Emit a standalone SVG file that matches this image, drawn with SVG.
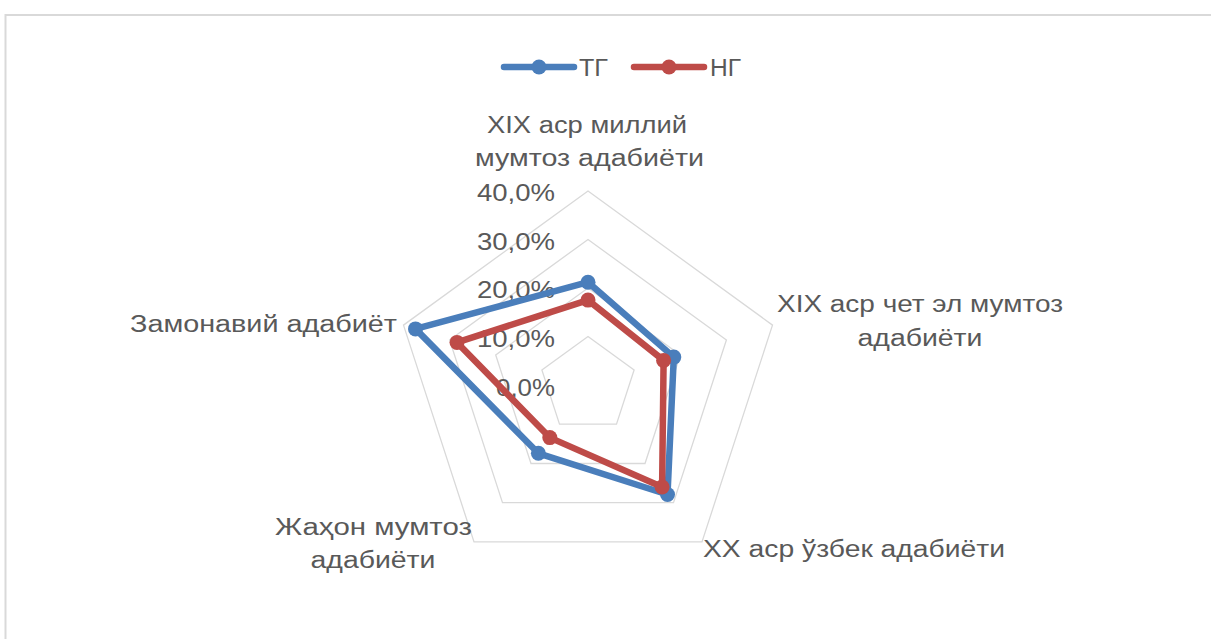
<svg xmlns="http://www.w3.org/2000/svg" width="1211" height="639" viewBox="0 0 1211 639">
  <style>
    .grid { fill: none; stroke: #D9D9D9; stroke-width: 1.3; }
    .lbl { font-family: "Liberation Sans", Arial, sans-serif; font-size: 23px; fill: #595959; }
    .tg { fill: none; stroke: #4A7EBB; stroke-width: 6.5; stroke-linejoin: round; stroke-linecap: round; }
    .ng { fill: none; stroke: #BE4B48; stroke-width: 6.5; stroke-linejoin: round; stroke-linecap: round; }
    .tgm { fill: #4A7EBB; }
    .ngm { fill: #BE4B48; }
  </style>
  <rect x="0" y="0" width="1211" height="639" fill="#FFFFFF"/>
  <rect id="frame" x="5.5" y="15" width="1300" height="700" fill="#FFFFFF" stroke="#D9D9D9" stroke-width="2"/>

  <g id="grid">
    <polygon class="grid" points="588,336.5 634.1,370 616.5,424.2 559.5,424.2 541.9,370"/>
    <polygon class="grid" points="588,288 680.3,355 645,463.5 531,463.5 495.7,355"/>
    <polygon class="grid" points="588,239.5 726.4,340 673.5,502.7 502.5,502.7 449.6,340"/>
    <polygon class="grid" points="588,191 772.5,325.1 702,541.9 474,541.9 403.5,325.1"/>
  </g>

  <g id="axis-labels" class="lbl" text-anchor="end">
    <text x="555" y="201" textLength="78" lengthAdjust="spacingAndGlyphs">40,0%</text>
    <text x="555" y="250" textLength="78" lengthAdjust="spacingAndGlyphs">30,0%</text>
    <text x="555" y="298" textLength="78" lengthAdjust="spacingAndGlyphs">20,0%</text>
    <text x="555" y="347" textLength="78" lengthAdjust="spacingAndGlyphs">10,0%</text>
    <text x="555" y="396" textLength="59" lengthAdjust="spacingAndGlyphs">0,0%</text>
  </g>

  <g id="connectors">
    <g id="series-tg">
      <polygon class="tg" points="588,282.2 673.8,357.1 667.5,494.5 538.4,453.3 415.5,328.9"/>
      <circle class="tgm" cx="588" cy="282.2" r="7.5"/>
      <circle class="tgm" cx="673.8" cy="357.1" r="7.5"/>
      <circle class="tgm" cx="667.5" cy="494.5" r="7.5"/>
      <circle class="tgm" cx="538.4" cy="453.3" r="7.5"/>
      <circle class="tgm" cx="415.5" cy="328.9" r="7.5"/>
    </g>
    <g id="series-ng">
      <polygon class="ng" points="588,300.1 663.6,360.4 662.1,487 549.8,437.6 457,342.4"/>
      <circle class="ngm" cx="588" cy="300.1" r="7.5"/>
      <circle class="ngm" cx="663.6" cy="360.4" r="7.5"/>
      <circle class="ngm" cx="662.1" cy="487" r="7.5"/>
      <circle class="ngm" cx="549.8" cy="437.6" r="7.5"/>
      <circle class="ngm" cx="457" cy="342.4" r="7.5"/>
    </g>
  </g>

  <g id="cat-top" class="lbl" text-anchor="middle">
    <text x="587" y="133" textLength="200" lengthAdjust="spacingAndGlyphs">XIX аср миллий</text>
    <text x="589.5" y="166" textLength="229" lengthAdjust="spacingAndGlyphs">мумтоз адабиёти</text>
  </g>
  <g id="cat-right" class="lbl" text-anchor="middle">
    <text x="920" y="312" textLength="286" lengthAdjust="spacingAndGlyphs">XIX аср чет эл мумтоз</text>
    <text x="920" y="346" textLength="125" lengthAdjust="spacingAndGlyphs">адабиёти</text>
  </g>
  <g id="cat-bottom-right" class="lbl">
    <text x="703" y="557" textLength="302" lengthAdjust="spacingAndGlyphs">XX аср ўзбек адабиёти</text>
  </g>
  <g id="cat-bottom-left" class="lbl" text-anchor="middle">
    <text x="373.5" y="535" textLength="197" lengthAdjust="spacingAndGlyphs">Жаҳон мумтоз</text>
    <text x="373" y="568" textLength="125" lengthAdjust="spacingAndGlyphs">адабиёти</text>
  </g>
  <g id="cat-left" class="lbl">
    <text x="130" y="332" textLength="267" lengthAdjust="spacingAndGlyphs">Замонавий адабиёт</text>
  </g>

  <g id="legend">
    <g id="legend-tg">
      <line class="tg" x1="504" y1="67" x2="574" y2="67" stroke-linecap="butt"/>
      <circle class="tgm" cx="539" cy="67" r="7.5"/>
      <text class="lbl" x="579" y="76" textLength="29" lengthAdjust="spacingAndGlyphs">ТГ</text>
    </g>
    <g id="legend-ng">
      <line class="ng" x1="634" y1="67" x2="704" y2="67" stroke-linecap="butt"/>
      <circle class="ngm" cx="669" cy="67" r="7.5"/>
      <text class="lbl" x="710" y="76" textLength="31" lengthAdjust="spacingAndGlyphs">НГ</text>
    </g>
  </g>
</svg>
